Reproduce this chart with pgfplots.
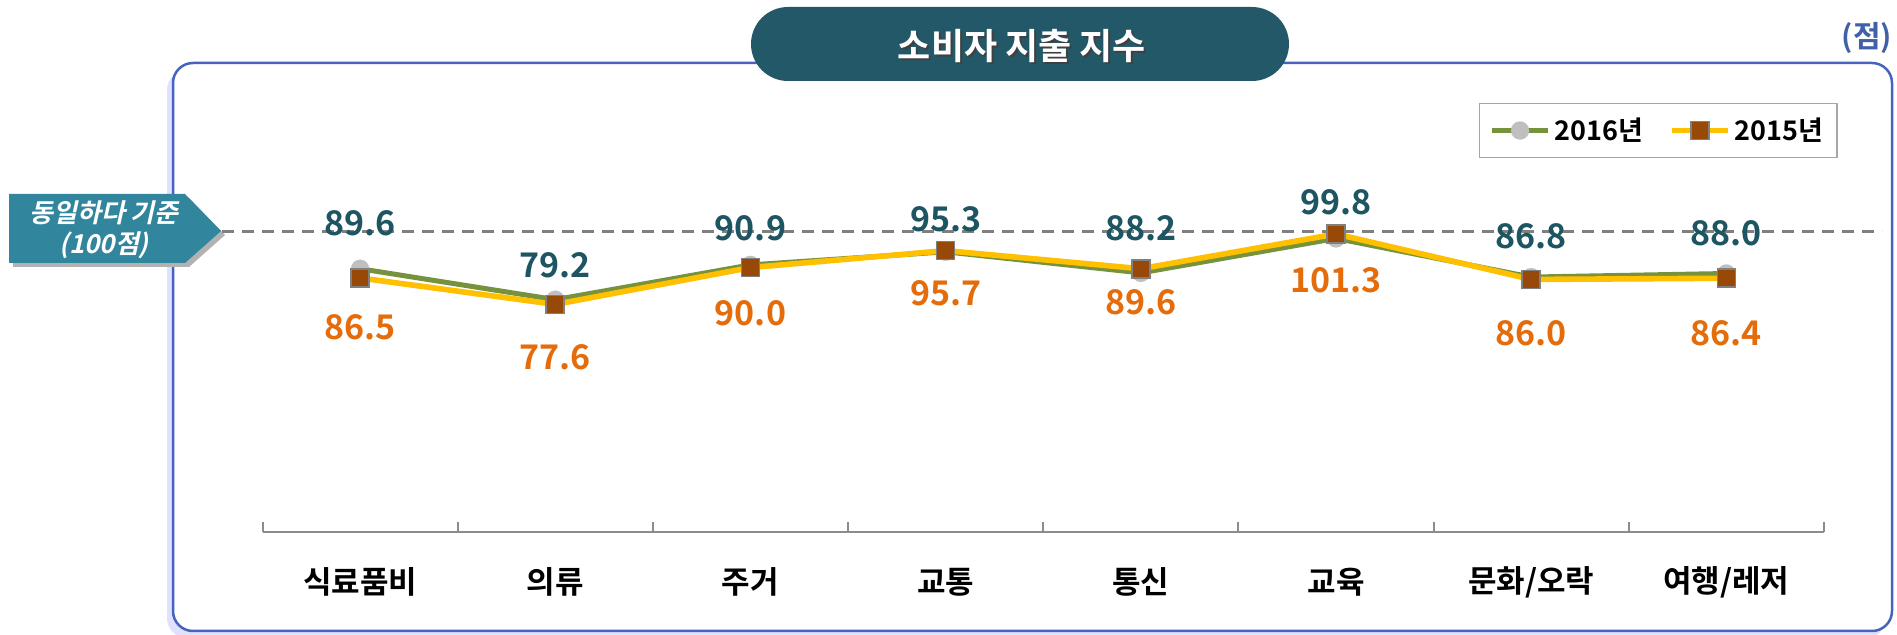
\documentclass[border=0pt]{standalone}
\usepackage{pgfplots}
\pgfplotsset{compat=1.18}
\usepackage{pgfplotstable}
\usepackage{fontspec}
\setmainfont{Noto Sans CJK KR}[BoldFont={Noto Sans CJK KR Bold}]
\newfontfamily\calloutfont{Noto Sans CJK KR Bold}[FakeSlant=0.22]

\definecolor{frameblue}{RGB}{70,100,190}
\definecolor{titlebg}{RGB}{34,88,103}
\definecolor{callout}{RGB}{49,133,156}
\definecolor{line16}{RGB}{118,146,60}
\definecolor{line15}{RGB}{255,192,0}
\definecolor{mgray}{RGB}{191,191,191}
\definecolor{sqfill}{RGB}{152,72,7}
\definecolor{lab16}{RGB}{30,85,98}
\definecolor{lab15}{RGB}{228,108,10}
\definecolor{unitblue}{RGB}{64,96,170}
\definecolor{axisgray}{RGB}{140,140,140}
\definecolor{dashgray}{RGB}{128,128,128}
\definecolor{legendgray}{RGB}{166,166,166}

\pgfplotstableread{
x y dy lab
0 89.6 23.0 89.6
1 79.2 17.4 79.2
2 90.9 18.5 90.9
3 95.3 16.5 95.3
4 88.2 22.5 88.2
5 99.8 18.3 99.8
6 86.8 20.2 86.8
7 88.0 20.3 88.0
}\tabA

\pgfplotstableread{
x y dy lab
0 86.5 24.4 86.5
1 77.6 26.3 77.6
2 90.0 22.7 90.0
3 95.7 21.2 95.7
4 89.6 16.5 89.6
5 101.3 23.0 101.3
6 86.0 26.7 86.0
7 86.4 27.3 86.4
}\tabB

\begin{document}
\begin{tikzpicture}
\begin{scope}[x=0.5pt,y=-0.5pt]
\path[use as bounding box] (0,0) rectangle (1897,635);
% frame shadow and frame
\fill[blue!12!white,rounded corners=10pt] (167,70) rectangle (1886,638);
\draw[frameblue,line width=1.25pt,fill=white,rounded corners=10pt] (173,63) rectangle (1892,631);
% title
\fill[titlebg,rounded corners=18.5pt] (751,7) rectangle (1289,81);
\node[text=black!75,font=\bfseries\fontsize{18}{20}\selectfont] at (1024,48) {소비자 지출 지수};
\node[text=white,font=\bfseries\fontsize{18}{20}\selectfont] at (1022,46) {소비자 지출 지수};
% unit
\node[text=unitblue,font=\bfseries\fontsize{15}{17}\selectfont] at (1867,38) {(점)};
% callout
\fill[black!30] (13,198) -- (189,198) -- (225,235) -- (189,267) -- (13,267) -- cycle;
\fill[callout] (9,194) -- (185,194) -- (221,231) -- (185,263) -- (9,263) -- cycle;
\node[text=white,font=\calloutfont\fontsize{13}{15}\selectfont] at (104,213) {동일하다 기준};
\node[text=white,font=\calloutfont\fontsize{13}{15}\selectfont] at (104,245) {(100점)};
% reference line
\draw[dashgray,line width=1.5pt,dash pattern=on 6pt off 4pt] (222,232) -- (1882,232);
\end{scope}
\begin{axis}[
  at={(131.25pt,-266pt)}, anchor=south west,
  scale only axis, width=780.75pt, height=206.5pt,
  xmin=-0.5, xmax=7.5, ymin=1, ymax=140,
  axis x line*=bottom, axis y line=none,
  x axis line style={draw=axisgray,line width=1pt,-},
  xtick={0,...,7},
  xticklabels={식료품비,의류,주거,교통,통신,교육,문화/오락,여행/레저},
  minor xtick={-0.5,0.5,...,7.5},
  major tick length=0pt,
  minor tick length=5pt,
  xtick align=inside,
  minor tick style={draw=axisgray,line width=1pt},
  major tick style={draw=none},
  xticklabel style={font=\bfseries\fontsize{15.5}{17}\selectfont,text=black,anchor=center,yshift=-25pt},
  clip=false,
  legend columns=2,
  legend style={at={(1.009,1.039)},anchor=north east,draw=legendgray,line width=0.8pt,fill=white,
    font=\bfseries\fontsize{13.5}{16}\selectfont,inner xsep=5pt,inner ysep=5pt,
    /tikz/every even column/.append style={column sep=11pt}},
  legend image code/.code={\draw[mark repeat=2,mark phase=2] plot coordinates {(0pt,0pt) (14pt,0pt) (28pt,0pt)};},
]
\addplot[color=line16,line width=2.5pt,mark=*,mark size=4.5pt,
  mark options={fill=mgray,draw=mgray,line width=0.1pt},
  nodes near coords,point meta=explicit symbolic,
  visualization depends on={\thisrow{dy}\as\dy},
  every node near coord/.style={anchor=center,yshift=\dy pt,text=lab16,font=\bfseries\fontsize{17}{19}\selectfont}]
  table[x=x,y=y,meta=lab]{\tabA};
\addlegendentry{2016년}
\addplot[color=line15,line width=2.8pt,mark=square*,mark size=4.5pt,
  mark options={fill=sqfill,draw=dashgray,line width=0.8pt},
  nodes near coords,point meta=explicit symbolic,
  visualization depends on={\thisrow{dy}\as\dy},
  every node near coord/.style={anchor=center,yshift=-\dy pt,text=lab15,font=\bfseries\fontsize{17}{19}\selectfont}]
  table[x=x,y=y,meta=lab]{\tabB};
\addlegendentry{2015년}
\end{axis}
\end{tikzpicture}
\end{document}
